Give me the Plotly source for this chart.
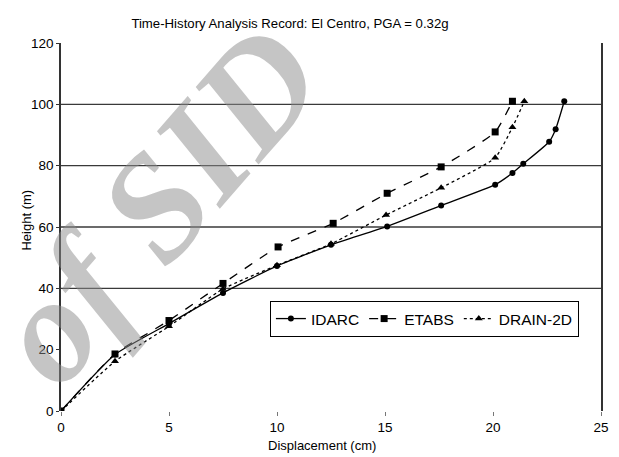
import plotly.graph_objects as go

# Peak storey displacement profiles (cm) against height (m)
idarc_disp = [0, 2.5, 5.0, 7.5, 10.0, 12.5, 15.1, 17.6, 20.1, 20.9, 21.4, 22.6, 22.9, 23.3]
idarc_height = [0, 18.4, 28.5, 38.5, 47.3, 54.2, 60.2, 67.0, 73.8, 77.6, 80.6, 87.8, 91.9, 101.0]

etabs_disp = [0, 2.5, 5.0, 7.5, 10.05, 12.6, 15.1, 17.6, 20.1, 20.9]
etabs_height = [0, 18.6, 29.5, 41.6, 53.5, 61.2, 71.0, 79.6, 91.0, 101.0]

drain_disp = [0, 2.5, 5.0, 7.5, 10.0, 12.5, 15.05, 17.6, 20.1, 20.9, 21.45]
drain_height = [0, 16.2, 27.6, 39.8, 47.5, 54.5, 63.9, 72.8, 82.6, 92.5, 101.0]

x_ticks = [0, 5, 10, 15, 20, 25]
y_ticks = [0, 20, 40, 60, 80, 100, 120]
grid_levels = [40, 60, 80, 100]

FONT = "Liberation Sans, Arial, sans-serif"

# plot-area geometry in pixels
L, R, T, B = 61, 10, 43, 46
W, H = 619, 457
PW, PH = W - L - R, H - T - B


def px_x(p):
    return (p - L) / PW


def px_y(p):
    return (H - B - p) / PH


fig = go.Figure()

series = [
    ("IDARC", idarc_disp, idarc_height, "solid", "circle", 6),
    ("ETABS", etabs_disp, etabs_height, "dash", "square", 7),
    ("DRAIN-2D", drain_disp, drain_height, "dot", "triangle-up", 7),
]
for name, xs, ys, dash, symbol, size in series:
    fig.add_trace(go.Scatter(
        x=xs, y=ys, name=name, mode="lines+markers",
        line=dict(color="black", width=1.3, dash=dash, shape="spline", smoothing=0.5),
        marker=dict(symbol=symbol, size=size, color="black"),
    ))

for lvl in grid_levels:
    fig.add_hline(y=lvl, line=dict(color="#3a3a3a", width=1.3), layer="below")

# Faint archive watermark behind the plot
fig.add_annotation(
    text="of SID", xref="paper", yref="paper",
    x=px_x(158), y=px_y(204),
    xanchor="center", yanchor="middle", textangle=-49, showarrow=False,
    font=dict(family="Liberation Serif, Times New Roman, serif", size=150,
              color="rgba(140,140,140,0.5)", weight="bold", style="italic"),
)

fig.add_annotation(
    text="Height (m)", xref="paper", yref="paper",
    x=px_x(25), y=px_y(220), textangle=-90,
    xanchor="center", yanchor="middle", showarrow=False,
    font=dict(family=FONT, size=13, color="black"),
)
fig.add_annotation(
    text="Displacement (cm)", xref="paper", yref="paper",
    x=px_x(326), y=px_y(445),
    xanchor="center", yanchor="middle", showarrow=False,
    font=dict(family=FONT, size=13, color="black"),
)

fig.update_layout(
    width=W, height=H,
    margin=dict(l=L, r=R, t=T, b=B),
    paper_bgcolor="white", plot_bgcolor="white",
    font=dict(family=FONT, size=13, color="black"),
    title=dict(text="Time-History Analysis Record: El Centro, PGA = 0.32g",
               x=290 / W, xref="container", xanchor="center",
               y=1 - 23 / H, yref="container", yanchor="middle",
               font=dict(family=FONT, size=13.2, color="black")),
    showlegend=True,
    legend=dict(orientation="h", x=px_x(273), y=px_y(301),
                xanchor="left", yanchor="top",
                bordercolor="black", borderwidth=1, bgcolor="white",
                font=dict(family=FONT, size=15.5, color="black"),
                itemwidth=30, tracegroupgap=0),
    xaxis=dict(range=[0, 25], tickvals=x_ticks, showgrid=False, zeroline=False,
               showline=False, ticks="outside", ticklen=4, tickcolor="#777",
               tickfont=dict(size=13.5)),
    yaxis=dict(range=[0, 120], tickvals=y_ticks, showgrid=False, zeroline=False,
               showline=True, mirror=True, linecolor="#333", linewidth=1.5,
               ticks="outside", ticklen=3, tickcolor="#333",
               tickfont=dict(size=13.5)),
)

fig.write_html("out.html")
